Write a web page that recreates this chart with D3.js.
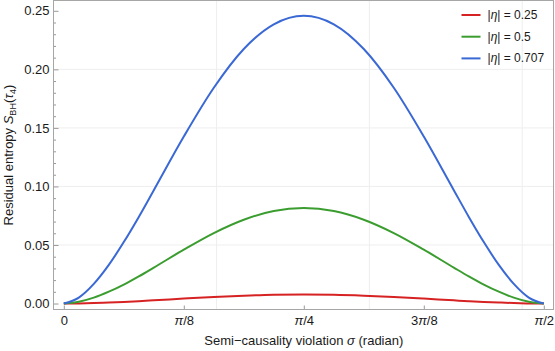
<!DOCTYPE html>
<html>
<head>
<meta charset="utf-8">
<script src="https://cdn.jsdelivr.net/npm/d3@7"></script>
<style>
  body { margin: 0; background: #fff; }
  text { font-family: "Liberation Sans", Arial, sans-serif; }
</style>
</head>
<body>
<div id="chart"></div>
<script>
// sigma (radian), denser near both ends where the curves bend sharply
var sigma = [0, 0.0491, 0.0982, 0.1473, 0.1963, 0.2454, 0.2945, 0.3927, 0.4909, 0.5890, 0.6872,
             0.7854,
             0.8836, 0.9817, 1.0799, 1.1781, 1.2763, 1.3254, 1.3744, 1.4235, 1.4726, 1.5217, 1.5708];

// residual entropy
var eta025 = [0, 0.0001, 0.0004, 0.0009, 0.0014, 0.0020, 0.0027, 0.0042, 0.0056, 0.0067, 0.0075,
              0.0078,
              0.0075, 0.0067, 0.0056, 0.0042, 0.0027, 0.0020, 0.0014, 0.0009, 0.0004, 0.0001, 0];
var eta05  = [0, 0.0015, 0.0050, 0.0101, 0.0162, 0.0232, 0.0307, 0.0460, 0.0602, 0.0716, 0.0790,
              0.0815,
              0.0790, 0.0716, 0.0602, 0.0460, 0.0307, 0.0232, 0.0162, 0.0101, 0.0050, 0.0015, 0];
var eta0707 = [0, 0.0051, 0.0168, 0.0330, 0.0525, 0.0740, 0.0968, 0.1426, 0.1843, 0.2174, 0.2385,
               0.2458,
               0.2385, 0.2174, 0.1843, 0.1426, 0.0968, 0.0740, 0.0525, 0.0330, 0.0168, 0.0051, 0];

var seriesNames = ["0.25", "0.5", "0.707"];
var seriesColors = ["#d62222", "#3b9d2f", "#3a68d4"];

var yTicks = [0, 0.05, 0.10, 0.15, 0.20, 0.25];
var yMinor = [0.01,0.02,0.03,0.04,0.06,0.07,0.08,0.09,0.11,0.12,0.13,0.14,
              0.16,0.17,0.18,0.19,0.21,0.22,0.23,0.24];
var xTicks = [0, Math.PI / 8, Math.PI / 4, 3 * Math.PI / 8, Math.PI / 2];
var xTickLabels = [["0", "", ""], ["", "π", "/8"], ["", "π", "/4"], ["3", "π", "/8"], ["", "π", "/2"]];
var xGrid = [0.5, 1.0, 1.5];
var yGrid = [0.05, 0.10, 0.15, 0.20];

function main(){
  var margin = {top: 0.5, right: 1.5, bottom: 41.5, left: 53.5},
      width = 555 - margin.left - margin.right,
      height = 351 - margin.top - margin.bottom;

  var svg = d3.select("#chart")
    .append("svg")
    .attr("width", 555)
    .attr("height", 351)
    .append("g")
    .attr("transform", "translate(" + margin.left + "," + margin.top + ")");

  var x = d3.scaleLinear().domain([-0.0337, 1.6025]).range([0, width]);
  var y = d3.scaleLinear().domain([-0.0051, 0.2588]).range([height, 0]);

  // grid lines
  svg.append("g").selectAll("line")
    .data(xGrid).enter().append("line")
    .attr("x1", function(d){ return x(d); }).attr("x2", function(d){ return x(d); })
    .attr("y1", 0).attr("y2", height)
    .attr("stroke", "#eeeeee").attr("stroke-width", 1);
  svg.append("g").selectAll("line")
    .data(yGrid).enter().append("line")
    .attr("x1", 0).attr("x2", width)
    .attr("y1", function(d){ return y(d); }).attr("y2", function(d){ return y(d); })
    .attr("stroke", "#eeeeee").attr("stroke-width", 1);

  // y axis, ticks pointing inwards
  var yAx = svg.append("g")
    .call(d3.axisLeft(y).tickValues(yTicks).tickSize(-5).tickPadding(4)
      .tickFormat(d3.format(".2f")));
  var yAxMinor = svg.append("g")
    .call(d3.axisLeft(y).tickValues(yMinor).tickSize(-2.5).tickFormat(""));

  // x axis
  var xAx = svg.append("g")
    .attr("transform", "translate(0," + height + ")")
    .call(d3.axisBottom(x).tickValues(xTicks).tickSize(-4).tickPadding(6)
      .tickFormat(function(){ return ""; }));

  [yAx, yAxMinor, xAx].forEach(function(a){
    a.select(".domain").remove();
    a.selectAll(".tick line").attr("stroke", "#999");
    a.selectAll(".tick text").attr("fill", "#1a1a1a").style("font-size", "13px")
      .style("font-family", "'Liberation Sans', Arial, sans-serif");
  });

  // pi labels: pi in italics
  xAx.selectAll(".tick text").each(function(d, i){
    var t = d3.select(this);
    var lab = xTickLabels[i];
    t.append("tspan").text(lab[0]);
    t.append("tspan").style("font-style", "italic").text(lab[1]);
    t.append("tspan").text(lab[2]);
  });

  // frame
  svg.append("rect")
    .attr("x", 0).attr("y", 0)
    .attr("width", width).attr("height", height)
    .attr("fill", "none").attr("stroke", "#a6a6a6").attr("stroke-width", 1);

  // curves
  var line = d3.line()
    .x(function(d){ return x(d[0]); })
    .y(function(d){ return y(d[1]); })
    .curve(d3.curveMonotoneX);

  [eta025, eta05, eta0707].forEach(function(vals, i){
    svg.append("path")
      .datum(sigma.map(function(s, j){ return [s, vals[j]]; }))
      .attr("fill", "none")
      .attr("stroke", seriesColors[i])
      .attr("stroke-width", 2)
      .attr("d", line);
  });

  // legend
  var legend = svg.append("g").attr("transform", "translate(408,14.5)");
  seriesNames.forEach(function(name, i){
    var g = legend.append("g").attr("transform", "translate(0," + (i * 21.7) + ")");
    g.append("line").attr("x1", 0).attr("x2", 19).attr("y1", 0).attr("y2", 0)
      .attr("stroke", seriesColors[i]).attr("stroke-width", 2);
    var t = g.append("text").attr("x", 26).attr("y", 4)
      .attr("fill", "#1a1a1a").style("font-size", "12px");
    t.append("tspan").text("|");
    t.append("tspan").style("font-style", "italic").text("η");
    t.append("tspan").text("| = " + name);
  });

  // axis labels
  var xl = svg.append("text")
    .attr("x", x(Math.PI / 4)).attr("y", 344.5)
    .attr("text-anchor", "middle")
    .attr("fill", "#1a1a1a").style("font-size", "13px");
  xl.append("tspan").text("Semi\u2212causality violation ");
  xl.append("tspan").style("font-style", "italic").text("σ");
  xl.append("tspan").text(" (radian)");

  var yl = svg.append("text")
    .attr("transform", "translate(-41," + (height / 2) + ") rotate(-90)")
    .attr("text-anchor", "middle")
    .attr("fill", "#1a1a1a").style("font-size", "13px");
  yl.append("tspan").text("Residual entropy ");
  yl.append("tspan").style("font-style", "italic").text("S");
  yl.append("tspan").attr("dy", 3).style("font-size", "9px").text("BH");
  yl.append("tspan").attr("dy", -3).text("(");
  yl.append("tspan").style("font-style", "italic").text("τ");
  yl.append("tspan").attr("dy", 3).style("font-size", "9px").text("4");
  yl.append("tspan").attr("dy", -3).text(")");
}
main();
</script>
</body>
</html>
